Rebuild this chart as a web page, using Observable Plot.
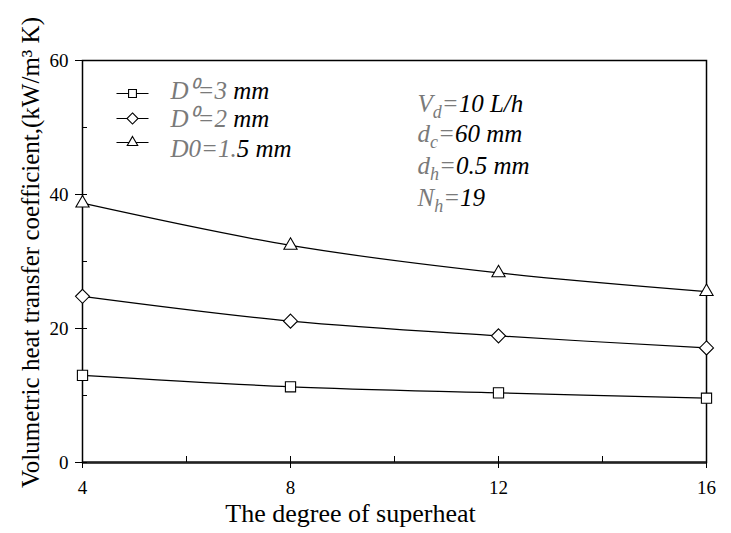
<!DOCTYPE html>
<html>
<head>
<meta charset="utf-8">
<script src="https://cdn.jsdelivr.net/npm/d3@7"></script>
<script src="https://cdn.jsdelivr.net/npm/@observablehq/plot@0.6"></script>
<style>
  html, body { margin: 0; padding: 0; background: white; }
  #chart { width: 731px; height: 533px; }
</style>
</head>
<body>
<div id="chart"></div>
<script>
// ---- data ----
const superheat = [4, 8, 12, 16];
const seriesNames = ["D0=3 mm", "D0=2 mm", "D0=1.5 mm"];
const seriesD3 = [13.0, 11.3, 10.4, 9.6];
const seriesD2 = [24.8, 21.1, 18.9, 17.1];
const seriesD15 = [38.7, 32.4, 28.3, 25.5];
const seriesSymbols = ["square2", "diamond2", "triangle2"];
const xTicks = [4, 8, 12, 16];
const xMinorTicks = [4, 6, 8, 10, 12, 14, 16];
const yTicks = [0, 20, 40, 60];
const yMinorTicks = [0, 10, 20, 30, 40, 50, 60];
// legend labels: gray part | black part ; "_x" = subscript
const legendLabels = ["D⁰=3| mm", "D⁰=2| mm", "D0=1.|5 mm"];
const paramLabels = ["V_d=|10 L/h", "d_c=|60 mm", "d_h=|0.5 mm", "N_h=|19"];
const xLabel = "The degree of superheat";
const yLabel = "Volumetric heat transfer coefficient,(kW/m³ K)";

const allSeries = [seriesD3, seriesD2, seriesD15];
const rows = allSeries.flatMap((vals, s) =>
  superheat.map((x, i) => ({series: seriesNames[s], x, y: vals[i]}))
);

const FONT = "Liberation Serif";
const ANN_SIZE = 25;

// legend row offsets (from top of frame)
const legendMarkerDy = [33, 58, 82];
const legendTextDy = [21, 49, 79];
const paramDy = [34, 64, 96, 128];

const hline = {
  draw(context) {
    context.moveTo(-16, 0);
    context.lineTo(16, 0);
  }
};

const marks = [
  Plot.frame({stroke: "black", strokeWidth: 1.5}),
  Plot.ruleY([0], {stroke: "#222", strokeWidth: 2.5}),
  Plot.axisX({ticks: xTicks, tickSize: 6, tickPadding: 12, fontSize: 19, fontFamily: FONT, label: null}),
  Plot.axisX({ticks: xMinorTicks, tickSize: -6, tickFormat: () => "", label: null}),
  Plot.axisY({ticks: yTicks, tickSize: 7, tickPadding: 7, fontSize: 19, fontFamily: FONT, label: null}),
  Plot.axisY({ticks: yMinorTicks, tickSize: -5, tickFormat: () => "", label: null}),
  ...seriesNames.map((name, s) =>
    Plot.line(rows.filter(d => d.series === name), {
      x: "x", y: "y", curve: "catmull-rom", stroke: "black", strokeWidth: 1.2
    })
  ),
  ...seriesNames.map((name, s) =>
    Plot.dot(rows.filter(d => d.series === name), {
      x: "x", y: "y", symbol: seriesSymbols[s], r: s === 0 ? 6.5 : 6.3,
      stroke: "black", strokeWidth: 1.1, fill: "white"
    })
  ),
  // legend
  ...seriesNames.map((name, s) =>
    Plot.dot([name], {
      frameAnchor: "top-left", dx: 50, dy: legendMarkerDy[s],
      symbol: hline, stroke: "black", strokeWidth: 1.1, r: 5
    })
  ),
  ...seriesNames.map((name, s) =>
    Plot.dot([name], {
      frameAnchor: "top-left", dx: 50, dy: legendMarkerDy[s],
      symbol: seriesSymbols[s], r: 5, stroke: "black", strokeWidth: 1.1, fill: "white"
    })
  ),
  ...legendLabels.map((t, s) =>
    Plot.text([t], {
      frameAnchor: "top-left", dx: 88, dy: legendTextDy[s], text: d => d,
      textAnchor: "start", fontSize: ANN_SIZE, fontStyle: "italic", fontFamily: FONT, className: "rich"
    })
  ),
  ...paramLabels.map((t, s) =>
    Plot.text([t], {
      frameAnchor: "top-left", dx: 335, dy: paramDy[s], text: d => d,
      textAnchor: "start", fontSize: ANN_SIZE, fontStyle: "italic", fontFamily: FONT, className: "rich"
    })
  ),
  // axis titles
  Plot.text([xLabel], {
    frameAnchor: "bottom-left", dx: 268, dy: 59, text: d => d,
    textAnchor: "middle", fontSize: 26, fontFamily: FONT
  }),
  Plot.text([yLabel], {
    frameAnchor: "left", dx: -52, dy: -9, rotate: -90, text: d => d,
    textAnchor: "middle", fontSize: 25, fontFamily: FONT
  })
];

const chart = Plot.plot({
  width: 731,
  height: 533,
  marginLeft: 82,
  marginRight: 25,
  marginTop: 60,
  marginBottom: 71,
  style: {fontFamily: FONT, fontSize: "19px", color: "black", background: "white", overflow: "visible"},
  x: {domain: [4, 16]},
  y: {domain: [0, 60]},
  marks
});

// rich text: gray prefix, black remainder, "_x" subscripts
function addPart(textEl, part, color, state) {
  const tokens = part.split(/(_.)/).filter(t => t.length);
  for (const tok of tokens) {
    const ts = d3.select(textEl).append("tspan").attr("fill", color);
    if (tok.startsWith("_")) {
      ts.text(tok.slice(1)).attr("font-size", Math.round(ANN_SIZE * 0.7)).attr("dy", state.shift ? 0 : 6);
      state.shift = true;
    } else {
      ts.text(tok).attr("dy", state.shift ? -6 : 0);
      state.shift = false;
    }
  }
}
d3.select(chart).selectAll("g.rich text").each(function() {
  const s = this.textContent;
  const [gray, black] = s.split("|");
  this.textContent = "";
  const state = {shift: false};
  addPart(this, gray, "#7a7a7a", state);
  if (black) addPart(this, black, "black", state);
});

document.getElementById("chart").appendChild(chart);
</script>
</body>
</html>
